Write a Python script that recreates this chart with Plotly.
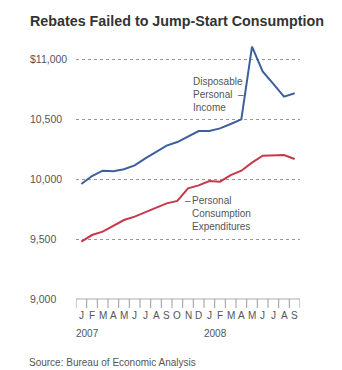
import plotly.graph_objects as go

months = ["J", "F", "M", "A", "M", "J", "J", "A", "S", "O", "N", "D",
          "J", "F", "M", "A", "M", "J", "J", "A", "S"]
years = ["2007", "2008"]
year_start_index = [0, 12]

income = [9958, 10025, 10069, 10064, 10081, 10114, 10172, 10225, 10278, 10308,
          10353, 10400, 10400, 10422, 10458, 10497, 11103, 10897, 10792, 10686, 10714]
consumption = [9478, 9533, 9561, 9611, 9658, 9686, 9722, 9761, 9797, 9817,
               9922, 9947, 9983, 9978, 10033, 10069, 10136, 10194, 10197, 10200, 10167]

y_ticks = [9000, 9500, 10000, 10500, 11000]
y_tick_labels = ["9,000", "9,500", "10,000", "10,500", "$11,000"]

BLUE = "#3d5f9a"
RED = "#c8374a"
TXT = "#555555"
FONT = "Liberation Sans, Arial, sans-serif"
FS = 10

x = list(range(len(months)))
n = len(months)
boundaries = [i - 0.5 for i in range(n + 1)]

fig = go.Figure()
fig.add_trace(go.Scatter(x=x, y=income, mode="lines",
                         line=dict(color=BLUE, width=2), hoverinfo="skip"))
fig.add_trace(go.Scatter(x=x, y=consumption, mode="lines",
                         line=dict(color=RED, width=2), hoverinfo="skip"))

L, R, T, B = 76, 42, 41, 71
W, H = 342, 370
pw = W - L - R
ph = H - T - B

def px_x(p):
    return (p - L) / pw

def px_y(p):
    return (H - B - p) / ph

annotations = []
for v, lab in zip(y_ticks, y_tick_labels):
    annotations.append(dict(x=px_x(28), xref="paper", y=v, yref="y", text=lab,
                            showarrow=False, xanchor="left", yanchor="middle",
                            font=dict(family=FONT, size=10.5, color=TXT)))
for i, m in zip(x, months):
    annotations.append(dict(x=i, xref="x", y=px_y(315), yref="paper", text=m,
                            showarrow=False, xanchor="center", yanchor="middle",
                            font=dict(family=FONT, size=FS, color=TXT)))
for yr, idx in zip(years, year_start_index):
    annotations.append(dict(x=idx - 0.5, xref="x", y=px_y(333), yref="paper", text=yr,
                            showarrow=False, xanchor="left", yanchor="middle",
                            xshift=-2,
                            font=dict(family=FONT, size=FS, color=TXT)))
annotations.append(dict(x=px_x(27), xref="paper", y=px_y(362), yref="paper",
                        text="Source: Bureau of Economic Analysis", showarrow=False,
                        xanchor="left", yanchor="middle",
                        font=dict(family=FONT, size=10, color=TXT)))
annotations.append(dict(x=px_x(191), xref="paper", y=px_y(94), yref="paper",
                        text="Disposable<br>Personal<br>Income", showarrow=False,
                        xanchor="left", yanchor="middle", align="left",
                        font=dict(family=FONT, size=FS, color=TXT)))
annotations.append(dict(x=px_x(236), xref="paper", y=px_y(94), yref="paper",
                        text="–", showarrow=False, xanchor="left", yanchor="middle",
                        font=dict(family=FONT, size=FS, color=TXT)))
annotations.append(dict(x=px_x(190), xref="paper", y=px_y(213), yref="paper",
                        text="Personal<br>Consumption<br>Expenditures", showarrow=False,
                        xanchor="left", yanchor="middle", align="left",
                        font=dict(family=FONT, size=FS, color=TXT)))
annotations.append(dict(x=px_x(183), xref="paper", y=px_y(200), yref="paper",
                        text="–", showarrow=False, xanchor="left", yanchor="middle",
                        font=dict(family=FONT, size=FS, color=TXT)))

# tick marks at month boundaries, drawn as short vertical lines below the axis
shapes = []
for bnd in boundaries:
    shapes.append(dict(type="line", xref="x", yref="paper",
                       x0=bnd, x1=bnd, y0=0, y1=px_y(308),
                       line=dict(color="#999999", width=1), layer="above"))
shapes.append(dict(type="line", xref="paper", yref="paper",
                   x0=0, x1=1, y0=0, y1=0,
                   line=dict(color="#aaaaaa", width=1), layer="above"))

fig.update_layout(
    width=W, height=H,
    margin=dict(l=L, r=R, t=T, b=B),
    paper_bgcolor="white", plot_bgcolor="white",
    showlegend=False,
    title=dict(text="<b>Rebates Failed to Jump-Start Consumption</b>",
               x=30 / W, xanchor="left", y=1 - 21 / H, yanchor="middle",
               font=dict(family=FONT, size=14.3, color="#333333")),
    xaxis=dict(range=[-0.5, n - 0.5], showticklabels=False, ticks="",
               showgrid=False, zeroline=False, showline=False),
    yaxis=dict(range=[9000, 11150], tickmode="array", tickvals=y_ticks,
               showticklabels=False, showgrid=True, gridcolor="#999999",
               griddash="dot", gridwidth=1, zeroline=False, showline=False),
    annotations=annotations,
    shapes=shapes,
)

fig.write_html("out.html")
